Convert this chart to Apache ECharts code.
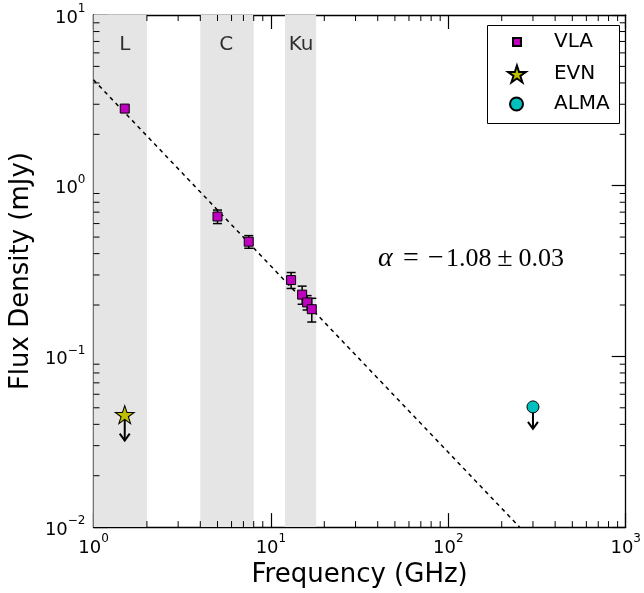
<!DOCTYPE html>
<html>
<head>
<meta charset="utf-8">
<script src="https://cdn.jsdelivr.net/npm/echarts@6/dist/echarts.min.js"></script>
<style>
html,body{margin:0;padding:0;background:#fff;}
#chart{width:644px;height:593px;}
</style>
</head>
<body>
<div id="chart"></div>
<script>
// ---- data ----
const vlaFreq = [1.5, 5.0, 7.5, 13.0, 15.0, 16.0, 17.0];
const vlaFlux = [2.83, 0.66, 0.47, 0.28, 0.23, 0.207, 0.189];
const vlaErr  = [0.08, 0.06, 0.04, 0.03, 0.028, 0.02, 0.03];
const evnFreq = [1.5];
const evnLimit = [0.0456];
const almaFreq = [300];
const almaLimit = [0.0506];
const fitFreq = [1, 252];
const fitFlux = [4.17, 0.01];
const bandNames = ['L', 'C', 'Ku'];
const bandLow = [1, 4, 12];
const bandHigh = [2, 8, 18];
const bandLabelX = [1.5, 5.6, 14.8];
const bandLabelY = 6.7;
const alphaSymbol = '\u03b1';
const alphaValue = '1.08';
const alphaError = '0.03';

// ---- helpers ----
const FONT = 'DejaVu Sans';
const MAG = '#bf00bf', YEL = '#bfbf00', CYA = '#00bfbf';
const STAR = 'path://M0,-10L2.245,-3.09L9.51,-3.09L3.633,1.18L5.878,8.09L0,3.82L-5.878,8.09L-3.633,1.18L-9.51,-3.09L-2.245,-3.09Z';

const xMinor = [], yMinor = [];
[1, 10, 100].forEach(d => { for (let k = 2; k <= 9; k++) xMinor.push([k * d, 1]); });
[0.01, 0.1, 1].forEach(d => { for (let k = 2; k <= 9; k++) yMinor.push([10, k * d]); });

function expLabel(v) {
  const e = Math.round(Math.log10(v));
  return '{b|10}{s|' + (e < 0 ? '\u2212' + (-e) : e) + '}';
}
const labelRich = {
  b: { fontSize: 18, fontFamily: FONT, color: '#000', verticalAlign: 'bottom', lineHeight: 24 },
  s: { fontSize: 12, fontFamily: FONT, color: '#000', verticalAlign: 'top', lineHeight: 14 }
};

const axisLine = { show: true, lineStyle: { color: '#000', width: 1.3 } };
const majorTick = { show: true, inside: true, length: 14, lineStyle: { color: '#000', width: 1.2 } };

const chart = echarts.init(document.getElementById('chart'), null, { renderer: 'canvas' });

function arrowItem(len) {
  return function (params, api) {
    const p = api.coord([api.value(0), api.value(1)]);
    const tip = p[1] + len;
    return {
      type: 'group',
      children: [
        { type: 'line', shape: { x1: p[0], y1: p[1], x2: p[0], y2: tip }, style: { stroke: '#000', lineWidth: 2 } },
        { type: 'polyline', shape: { points: [[p[0] - 5, tip - 7], [p[0], tip], [p[0] + 5, tip - 7]] }, style: { stroke: '#000', lineWidth: 2, fill: null } }
      ]
    };
  };
}

const SERIF = 'Liberation Serif';
const mathRich = {
  a: { fontFamily: SERIF, fontStyle: 'italic', fontSize: 28, fill: '#000', width: 18, align: 'left' },
  eq: { fontFamily: SERIF, fontSize: 28, fill: '#000', width: 30, align: 'center' },
  mi: { fontFamily: SERIF, fontSize: 28, fill: '#000', width: 20, align: 'center' },
  n: { fontFamily: SERIF, fontSize: 26, fill: '#000' },
  pm: { fontFamily: SERIF, fontSize: 28, fill: '#000', width: 27, align: 'center' }
};

const option = {
  animation: false,
  backgroundColor: '#fff',
  grid: { left: 91, right: 14, top: 15, bottom: 64, show: false },
  xAxis: [
    {
      type: 'log', logBase: 10, min: 1, max: 1000, position: 'bottom',
      axisLine: axisLine, axisTick: majorTick, splitLine: { show: false },
      axisLabel: { formatter: expLabel, rich: labelRich, margin: 6 },
      name: 'Frequency (GHz)', nameLocation: 'middle', nameGap: 33,
      nameTextStyle: { fontFamily: FONT, fontSize: 26, color: '#000' }
    },
    {
      type: 'log', logBase: 10, min: 1, max: 1000, position: 'top',
      axisLine: axisLine, axisTick: majorTick, splitLine: { show: false },
      axisLabel: { show: false }
    }
  ],
  yAxis: [
    {
      type: 'log', logBase: 10, min: 0.01, max: 10, position: 'left',
      axisLine: axisLine, axisTick: majorTick, splitLine: { show: false },
      axisLabel: { formatter: expLabel, rich: labelRich, margin: 8 },
      name: 'Flux Density (mJy)', nameLocation: 'middle', nameGap: 47,
      nameTextStyle: { fontFamily: FONT, fontSize: 26, color: '#000' }
    },
    {
      type: 'log', logBase: 10, min: 0.01, max: 10, position: 'right',
      axisLine: axisLine, axisTick: majorTick, splitLine: { show: false },
      axisLabel: { show: false }
    }
  ],
  legend: [
    {
      data: ['VLA'], left: 512, top: 32, padding: 0, orient: 'vertical',
      itemWidth: 8, itemHeight: 8, z: 10,
      textStyle: { fontFamily: FONT, fontSize: 20, color: '#000', padding: [0, 0, 0, 28] }
    },
    {
      data: ['EVN'], left: 507, top: 64, padding: 0, orient: 'vertical',
      itemWidth: 18, itemHeight: 17, z: 10,
      textStyle: { fontFamily: FONT, fontSize: 20, color: '#000', padding: [0, 0, 0, 23] }
    },
    {
      data: ['ALMA'], left: 509, top: 94, padding: 0, orient: 'vertical',
      itemWidth: 13, itemHeight: 13, z: 10,
      textStyle: { fontFamily: FONT, fontSize: 20, color: '#000', padding: [0, 0, 0, 26] }
    }
  ],
  graphic: [
    {
      type: 'rect', left: 487, top: 25, z: 5,
      shape: { width: 132, height: 98 },
      style: { fill: '#fff', stroke: '#000', lineWidth: 1 }
    },
    {
      type: 'text', left: 378, top: 245, z: 5,
      style: {
        text: '{a|' + alphaSymbol + '}{eq|=}{mi|\u2212}{n|' + alphaValue + '}{pm|\u00b1}{n|' + alphaError + '}',
        rich: mathRich
      }
    }
  ],
  series: [
    {
      name: 'fit', type: 'line', xAxisIndex: 0, yAxisIndex: 0,
      data: fitFreq.map((f, i) => [f, fitFlux[i]]),
      symbol: 'none', silent: true, z: 3,
      lineStyle: { color: '#000', width: 1.5, type: [4, 4] },
      markArea: {
        silent: true,
        itemStyle: { color: '#e5e5e5' },
        data: bandNames.map((n, i) => [{ xAxis: bandLow[i] }, { xAxis: bandHigh[i] }])
      }
    },
    {
      name: 'bandLabels', type: 'scatter', xAxisIndex: 0, yAxisIndex: 0,
      symbolSize: 0, silent: true, z: 4,
      data: bandNames.map((n, i) => ({ value: [bandLabelX[i], bandLabelY], name: n })),
      label: { show: true, position: 'inside', formatter: p => p.name, fontFamily: FONT, fontSize: 20, color: '#000' }
    },
    {
      name: 'vlaErr', type: 'custom', xAxisIndex: 0, yAxisIndex: 0, silent: true, z: 5,
      data: vlaFreq.map((f, i) => [f, vlaFlux[i], vlaFlux[i] - vlaErr[i], vlaFlux[i] + vlaErr[i]]),
      renderItem: function (params, api) {
        const lo = api.coord([api.value(0), api.value(2)]);
        const hi = api.coord([api.value(0), api.value(3)]);
        const w = 4.5;
        const st = { stroke: '#000', lineWidth: 1.5 };
        return {
          type: 'group',
          children: [
            { type: 'line', shape: { x1: lo[0], y1: lo[1], x2: hi[0], y2: hi[1] }, style: st },
            { type: 'line', shape: { x1: lo[0] - w, y1: lo[1], x2: lo[0] + w, y2: lo[1] }, style: st },
            { type: 'line', shape: { x1: hi[0] - w, y1: hi[1], x2: hi[0] + w, y2: hi[1] }, style: st }
          ]
        };
      }
    },
    {
      name: 'VLA', type: 'scatter', xAxisIndex: 0, yAxisIndex: 0, z: 6,
      data: vlaFreq.map((f, i) => [f, vlaFlux[i]]),
      symbol: 'rect', symbolSize: 9,
      itemStyle: { color: MAG, borderColor: '#000', borderWidth: 1, opacity: 1 }
    },
    {
      name: 'evnArrow', type: 'custom', xAxisIndex: 0, yAxisIndex: 0, silent: true, z: 5,
      data: evnFreq.map((f, i) => [f, evnLimit[i]]),
      renderItem: arrowItem(26)
    },
    {
      name: 'EVN', type: 'scatter', xAxisIndex: 0, yAxisIndex: 0, z: 6,
      data: evnFreq.map((f, i) => [f, evnLimit[i]]),
      symbol: STAR, symbolSize: [19, 18],
      itemStyle: { color: YEL, borderColor: '#000', borderWidth: 1, opacity: 1 }
    },
    {
      name: 'almaArrow', type: 'custom', xAxisIndex: 0, yAxisIndex: 0, silent: true, z: 5,
      data: almaFreq.map((f, i) => [f, almaLimit[i]]),
      renderItem: arrowItem(22)
    },
    {
      name: 'ALMA', type: 'scatter', xAxisIndex: 0, yAxisIndex: 0, z: 6,
      data: almaFreq.map((f, i) => [f, almaLimit[i]]),
      symbol: 'circle', symbolSize: 12,
      itemStyle: { color: CYA, borderColor: '#000', borderWidth: 1, opacity: 1 }
    },
    {
      name: 'xMinorTicks', type: 'custom', xAxisIndex: 0, yAxisIndex: 0, silent: true, z: 7,
      data: xMinor,
      renderItem: function (params, api) {
        const p = api.coord([api.value(0), 1]);
        const cs = params.coordSys;
        const st = { stroke: '#000', lineWidth: 1 };
        const b = cs.y + cs.height, t = cs.y;
        return {
          type: 'group', children: [
            { type: 'line', shape: { x1: p[0], y1: b, x2: p[0], y2: b - 6 }, style: st },
            { type: 'line', shape: { x1: p[0], y1: t, x2: p[0], y2: t + 6 }, style: st }
          ]
        };
      }
    },
    {
      name: 'yMinorTicks', type: 'custom', xAxisIndex: 0, yAxisIndex: 0, silent: true, z: 7,
      data: yMinor,
      renderItem: function (params, api) {
        const p = api.coord([10, api.value(1)]);
        const cs = params.coordSys;
        const st = { stroke: '#000', lineWidth: 1 };
        const l = cs.x, r = cs.x + cs.width;
        return {
          type: 'group', children: [
            { type: 'line', shape: { x1: l, y1: p[1], x2: l + 6, y2: p[1] }, style: st },
            { type: 'line', shape: { x1: r, y1: p[1], x2: r - 6, y2: p[1] }, style: st }
          ]
        };
      }
    }
  ]
};
chart.setOption(option);
</script>
</body>
</html>
